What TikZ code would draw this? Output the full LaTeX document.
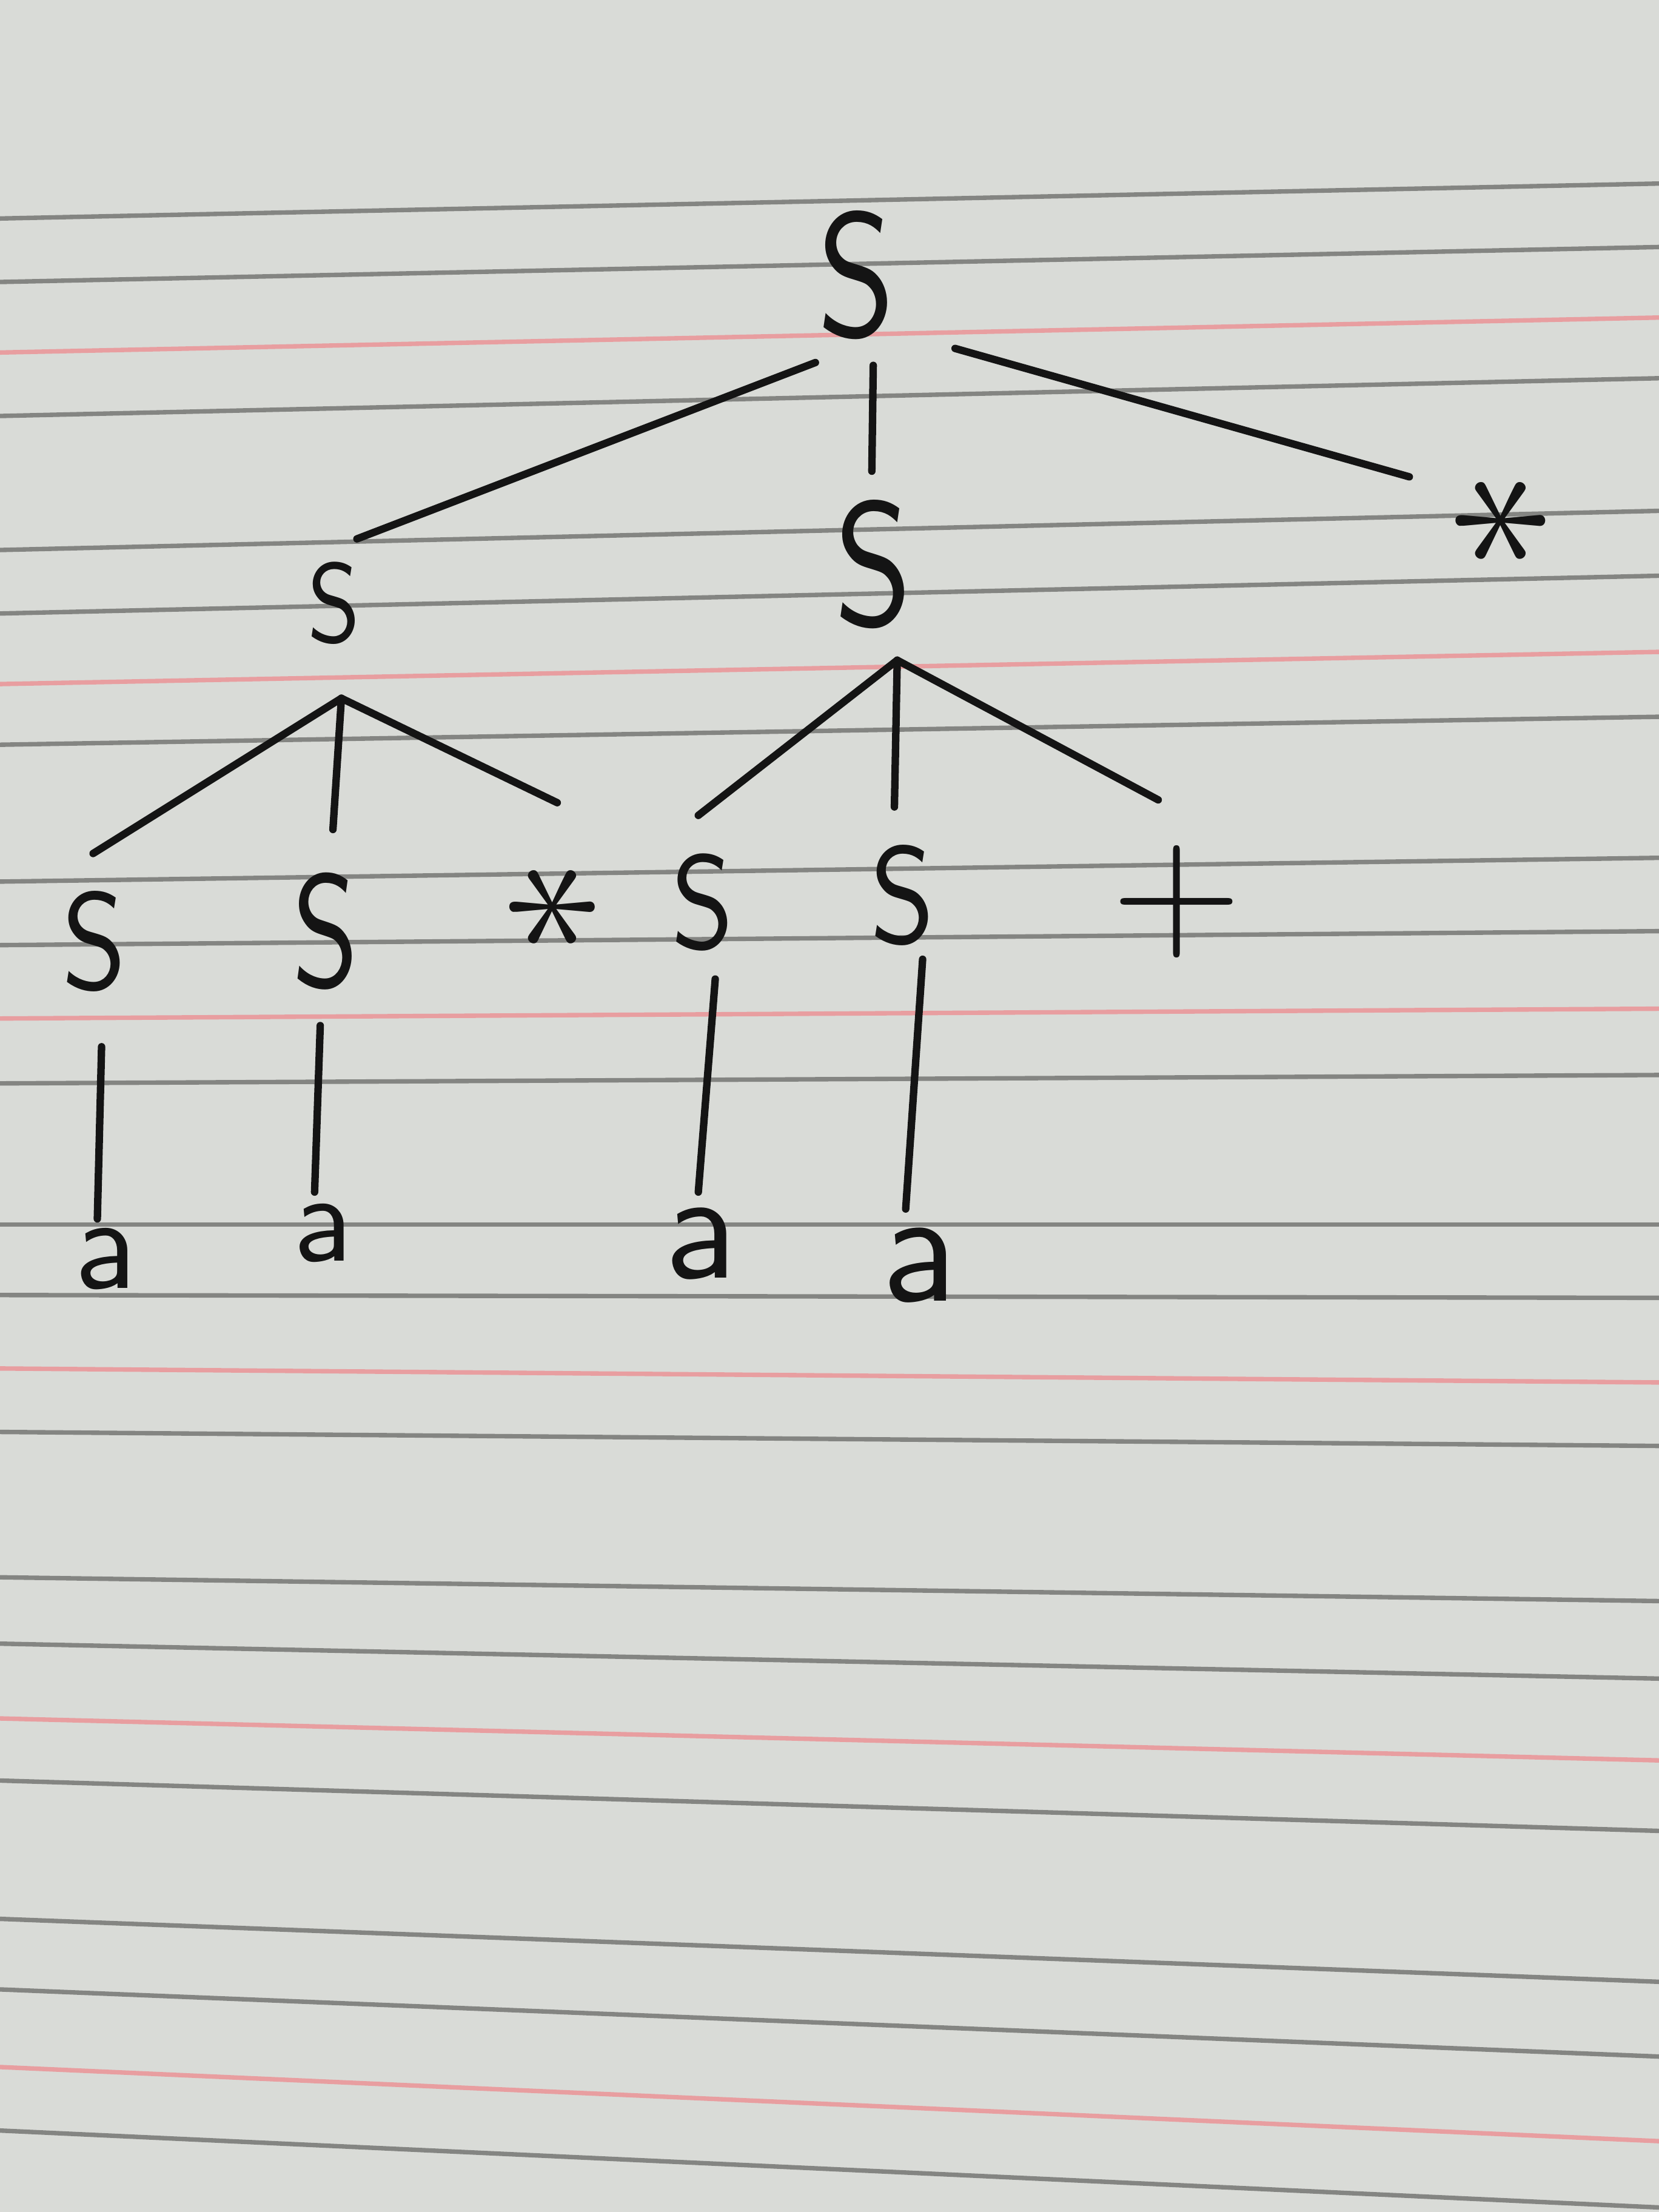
\documentclass[tikz,border=0pt]{standalone}
\definecolor{paper}{RGB}{217,219,215}
\definecolor{rule}{RGB}{132,133,130}
\definecolor{redrule}{RGB}{232,158,160}
\definecolor{ink}{RGB}{20,20,20}
\begin{document}
\begin{tikzpicture}[
  sym/.style={font=\sffamily,text=ink,inner sep=0pt,anchor=base},
  op/.style={text=ink,inner sep=0pt},
  edge/.style={draw=ink,line width=1.5pt,line cap=round}]
  \useasboundingbox (0,0) rectangle (11.76,-15.68);
  % notebook page
  \fill[paper] (-0.05,0.05) rectangle (11.81,-15.73);
  \foreach \yl/\yr in {1.55/1.30,2.00/1.75,2.95/2.68,3.90/3.62,4.35/4.08,
      5.28/5.08,6.25/6.08,6.70/6.60,7.68/7.62,8.68/8.68,9.18/9.20,
      10.15/10.25,11.18/11.35,11.65/11.90,12.62/12.98,13.60/14.05,
      14.10/14.58,15.10/15.65}
    \draw[rule,line width=0.9pt] (-0.05,-\yl) -- (11.81,-\yr);
  \foreach \yl/\yr in {2.50/2.25,4.85/4.62,7.22/7.15,9.70/9.80,
      12.18/12.48,14.65/15.18}
    \draw[redrule,line width=0.9pt] (-0.05,-\yl) -- (11.81,-\yr);

  % parse tree
  \node[sym,scale=3.52,xscale=0.8] (s1) at (6.07,-2.38) {S};
  \node[sym,scale=2.25,xscale=0.85] (s2) at (2.37,-4.55) {S};
  \node[sym,scale=3.52,xscale=0.8] (s3) at (6.19,-4.43) {S};
  \node[op,scale=4.2,rotate=90] (t1) at (10.66,-3.69) {$\ast$};
  \node[sym,scale=2.75,xscale=0.85] (s4) at (0.67,-7.01) {S};
  \node[sym,scale=3.2,xscale=0.75] (s5) at (2.31,-6.99) {S};
  \node[op,scale=4.0,rotate=90] (t2) at (3.94,-6.43) {$\ast$};
  \node[sym,scale=2.66,xscale=0.85] (s6) at (4.98,-6.72) {S};
  \node[sym,scale=2.75,xscale=0.85] (s7) at (6.40,-6.68) {S};
  \node[op,scale=3.4] (p1) at (8.34,-6.39) {$+$};
  \node[sym,scale=2.63] (a1) at (0.75,-9.13) {a};
  \node[sym,scale=2.5] (a2) at (2.29,-8.94) {a};
  \node[sym,scale=3.07] (a3) at (4.97,-9.06) {a};
  \node[sym,scale=3.2] (a4) at (6.52,-9.22) {a};

  \draw[edge] ([shift={(-0.29,-0.19)}]s1.base) -- ([shift={(0.16,0.73)}]s2.base);
  \draw[edge] ([shift={(0.12,-0.21)}]s1.base) -- ([shift={(-0.01,1.09)}]s3.base);
  \draw[edge] ([shift={(0.70,-0.09)}]s1.base) -- ([shift={(-0.67,0.31)}]t1.center);
  \draw[edge] ([shift={(0.05,-0.40)}]s2.base) -- ([shift={(-0.01,0.96)}]s4.base);
  \draw[edge] ([shift={(0.05,-0.40)}]s2.base) -- ([shift={(0.05,1.11)}]s5.base);
  \draw[edge] ([shift={(0.05,-0.40)}]s2.base) -- ([shift={(0.01,0.74)}]t2.center);
  \draw[edge] ([shift={(0.17,-0.25)}]s3.base) -- ([shift={(-0.03,0.94)}]s6.base);
  \draw[edge] ([shift={(0.17,-0.25)}]s3.base) -- ([shift={(-0.06,0.96)}]s7.base);
  \draw[edge] ([shift={(0.17,-0.25)}]s3.base) -- ([shift={(-0.13,0.72)}]p1.center);
  \draw[edge] ([shift={(0.05,-0.41)}]s4.base) -- ([shift={(-0.06,0.49)}]a1.base);
  \draw[edge] ([shift={(-0.04,-0.28)}]s5.base) -- ([shift={(-0.06,0.49)}]a2.base);
  \draw[edge] ([shift={(0.09,-0.22)}]s6.base) -- ([shift={(-0.02,0.61)}]a3.base);
  \draw[edge] ([shift={(0.14,-0.12)}]s7.base) -- ([shift={(-0.10,0.65)}]a4.base);
\end{tikzpicture}
\end{document}
